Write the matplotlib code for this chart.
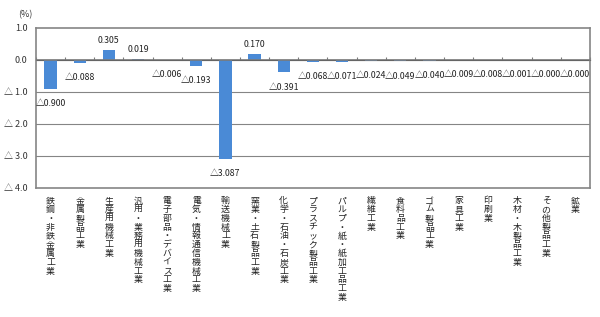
import numpy as np
import matplotlib
matplotlib.use("Agg")
import matplotlib.pyplot as plt

plt.rcParams['font.family'] = ['Noto Sans CJK JP', 'DejaVu Sans']

# ---------------------------------------------------------------- data
categories = ['鉄鋼・非鉄金属工業', '金属製品工業', '生産用機械工業', '汎用・業務用機械工業',
              '電子部品・デバイス工業', '電気・情報通信機械工業', '輸送機械工業', '窯業・土石製品工業',
              '化学・石油・石炭工業', 'プラスチック製品工業', 'パルプ・紙・紙加工品工業', '繊維工業',
              '食料品工業', 'ゴム製品工業', '家具工業', '印刷業', '木材・木製品工業',
              'その他製品工業', '鉱業']
values = [-0.900, -0.088, 0.305, 0.019, -0.006, -0.193, -3.087, 0.170, -0.391, -0.068,
          -0.071, -0.024, -0.049, -0.040, -0.009, -0.008, -0.001, -0.000, -0.000]
# the last entries are rounded-off negatives, shown with the triangle
negative = [True, True, False, False, True, True, True, False, True, True,
            True, True, True, True, True, True, True, True, True]
ytick_vals = [1.0, 0.0, -1.0, -2.0, -3.0, -4.0]
ytick_labels = ['1.0', '0.0', '△ 1.0', '△ 2.0', '△ 3.0', '△ 4.0']


def fmt(v, neg):
    return ('△' if neg else '') + '{:.3f}'.format(abs(v))


fig = plt.figure(figsize=(6.0, 3.17), dpi=100)
ax = fig.add_axes([0.06, 0.407, 0.923, 0.505])

x = np.arange(len(categories))
ax.bar(x, values, width=0.42, color='#4a8ad6', zorder=3)

ax.set_xlim(-0.5, len(categories) - 0.5)
ax.set_ylim(-4.0, 1.0)
ax.set_yticks(ytick_vals)
ax.set_yticklabels(ytick_labels, fontsize=6.5, color='#333333')
ax.tick_params(axis='y', length=0, pad=6)

# gridlines
for yv in [-1.0, -2.0, -3.0]:
    ax.axhline(yv, color='#858585', lw=0.8, zorder=1)
ax.axhline(0, color='#7a7a7a', lw=1.2, zorder=4)

for s in ax.spines.values():
    s.set_color('#858585')
    s.set_linewidth(1.2)

# category labels, stacked vertically
ax.set_xticks(x)
ax.set_xticklabels(['\n'.join(c) for c in categories], fontsize=6.4,
                   linespacing=0.97, va='top', color='#222222')
ax.tick_params(axis='x', length=0, pad=6)

# small tick marks on the zero line at category boundaries
sec = ax.secondary_xaxis(0.8)
sec.set_xticks(np.arange(len(categories) + 1) - 0.5)
sec.set_xticklabels([])
sec.tick_params(axis='x', direction='out', length=2.5, color='#7a7a7a')
sec.spines['bottom'].set_visible(False)

# value labels
for xi, v, neg in zip(x, values, negative):
    if neg:
        ax.annotate(fmt(v, neg), (xi, v), xytext=(0, -10.5), textcoords='offset points',
                    ha='center', va='center', fontsize=6.3, color='#222222')
    else:
        ax.annotate(fmt(v, neg), (xi, v), xytext=(0, 7), textcoords='offset points',
                    ha='center', va='center', fontsize=6.3, color='#222222')

fig.text(25 / 600, 1 - 15 / 317, '(%)', fontsize=6.5, ha='center', va='center', color='#333333')

fig.savefig('out.png', dpi=100)
